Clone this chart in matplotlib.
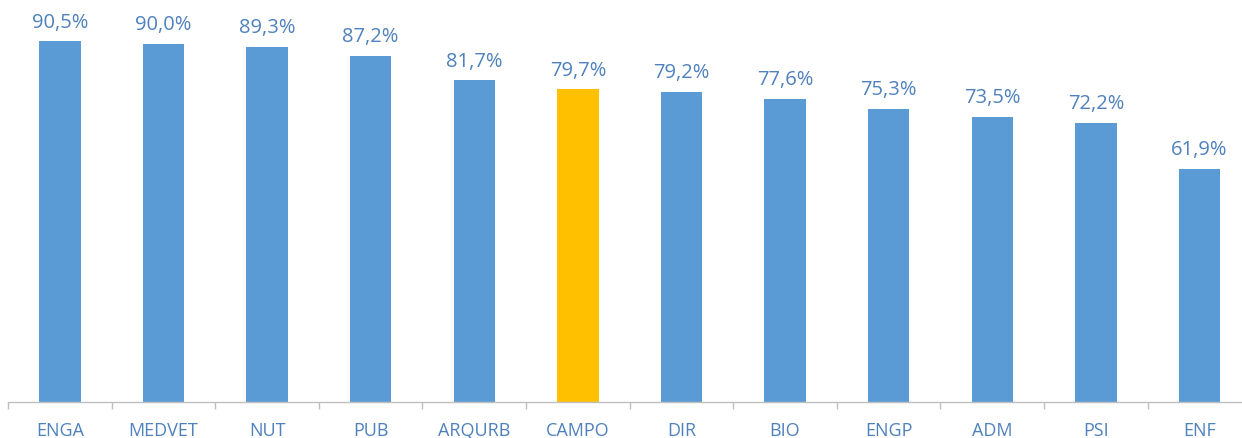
import numpy as np
import matplotlib.pyplot as plt

# Dados
cursos = ["ENGA", "MEDVET", "NUT", "PUB", "ARQURB", "CAMPO",
          "DIR", "BIO", "ENGP", "ADM", "PSI", "ENF"]
valores = [90.5, 90.0, 89.3, 87.2, 81.7, 79.7, 79.2, 77.6, 75.3, 73.5, 72.2, 61.9]
destaque = "CAMPO"

azul = "#5b9bd5"
amarelo = "#ffc000"
cor_texto = "#4f81bd"

plt.rcParams['font.family'] = ['Open Sans', 'DejaVu Sans']

fig = plt.figure(figsize=(12.42, 4.39), dpi=100)
ax = fig.add_axes([8 / 1242, 36 / 439, 1243.3 / 1242, 403 / 439])

x = np.arange(len(cursos))
cores = [amarelo if c == destaque else azul for c in cursos]
ax.bar(x, valores, width=0.4, color=cores)

for xi, v in zip(x, valores):
    ax.text(xi, v + 2.2, f"{v:.1f}%".replace(".", ","), ha="center", va="bottom",
            fontsize=14.5, color=cor_texto)

ax.set_xlim(-0.5, len(cursos) - 0.5)
ax.set_ylim(9.5, 100)
ax.set_yticks([])
ax.set_xticks(x)
ax.set_xticklabels(cursos, fontsize=13, color=cor_texto)
ax.set_xticks(np.arange(len(cursos) + 1) - 0.5, minor=True)
ax.tick_params(axis="x", which="major", length=0, pad=14)
ax.tick_params(axis="x", which="minor", length=5, width=1, color="#bfbfbf", direction="out")

for lado in ["top", "right", "left"]:
    ax.spines[lado].set_visible(False)
ax.spines["bottom"].set_color("#bfbfbf")
ax.spines["bottom"].set_linewidth(1)

fig.savefig("out.png", dpi=100)
